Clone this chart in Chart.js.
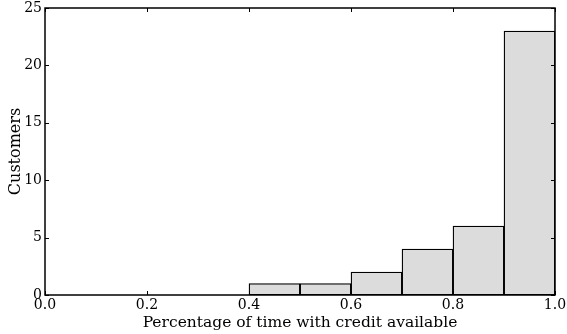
<!DOCTYPE html>
<html>
<head>
<meta charset="utf-8">
<script src="https://cdn.jsdelivr.net/npm/chart.js@4/dist/chart.umd.min.js"></script>
<style>
  html, body { margin: 0; padding: 0; background: #fff; }
  #wrap { width: 567px; height: 334px; }
</style>
</head>
<body>
<div id="wrap"><canvas id="hist"></canvas></div>
<script>
// histogram bins (centres) and customer counts
const binCenters = [0.05, 0.15, 0.25, 0.35, 0.45, 0.55, 0.65, 0.75, 0.85, 0.95];
const customers = [0, 0, 0, 0, 1, 1, 2, 4, 6, 23];
const xTicks = [0.0, 0.2, 0.4, 0.6, 0.8, 1.0];
const yTicks = [0, 5, 10, 15, 20, 25];

const FONT = "'DejaVu Serif', serif";

// matplotlib-like frame with inward ticks on all four sides
const frameTicks = {
    id: 'frameTicks',
    afterDraw(chart) {
        const ctx = chart.ctx;
        const a = chart.chartArea;
        const xs = chart.scales.x, ys = chart.scales.y;
        const len = 4;
        ctx.save();
        ctx.strokeStyle = '#000';
        ctx.lineWidth = 1;
        ctx.beginPath();
        for (const v of xTicks) {
            const px = Math.round(xs.getPixelForValue(v)) + 0.5;
            ctx.moveTo(px, a.bottom); ctx.lineTo(px, a.bottom - len);
            ctx.moveTo(px, a.top); ctx.lineTo(px, a.top + len);
        }
        for (const v of yTicks) {
            const py = Math.round(ys.getPixelForValue(v)) + 0.5;
            ctx.moveTo(a.left, py); ctx.lineTo(a.left + len, py);
            ctx.moveTo(a.right, py); ctx.lineTo(a.right - len, py);
        }
        ctx.stroke();
        ctx.lineWidth = 1.5;
        ctx.strokeRect(a.left, a.top, a.right - a.left, a.bottom - a.top);
        ctx.restore();
    }
};

new Chart(document.getElementById('hist').getContext('2d'), {
    type: 'bar',
    data: {
        datasets: [{
            data: binCenters.map((c, i) => ({ x: c, y: customers[i] })),
            backgroundColor: '#dcdcdc',
            borderColor: '#000',
            borderWidth: 1.3,
            borderSkipped: false,
            barPercentage: 1,
            categoryPercentage: 1
        }]
    },
    options: {
        responsive: true,
        maintainAspectRatio: false,
        animation: false,
        layout: { padding: { top: 8, right: 12, left: 0, bottom: 0 } },
        plugins: { legend: { display: false }, tooltip: { enabled: false } },
        scales: {
            x: {
                type: 'linear',
                min: 0, max: 1,
                offset: false,
                grid: { display: false, drawTicks: false },
                border: { display: false },
                afterBuildTicks: (s) => { s.ticks = xTicks.map(v => ({ value: v })); },
                afterFit: (s) => { s.height = 39; s.paddingLeft = 0; s.paddingRight = 0; },
                ticks: {
                    color: '#000', padding: 2,
                    font: { family: FONT, size: 14 },
                    callback: (v) => v.toFixed(1)
                },
                title: {
                    display: true, text: 'Percentage of time with credit available',
                    color: '#000', padding: { top: 0, bottom: 2 },
                    font: { family: FONT, size: 15.5 }
                }
            },
            y: {
                min: 0, max: 25,
                grid: { display: false, drawTicks: false },
                border: { display: false },
                afterBuildTicks: (s) => { s.ticks = yTicks.map(v => ({ value: v })); },
                afterFit: (s) => { s.width = 45; s.paddingTop = 0; s.paddingBottom = 0; },
                ticks: {
                    color: '#000', padding: 3,
                    font: { family: FONT, size: 14 }
                },
                title: {
                    display: true, text: 'Customers',
                    color: '#000', padding: { top: 6, bottom: 2 },
                    font: { family: FONT, size: 16 }
                }
            }
        }
    },
    plugins: [frameTicks]
});
</script>
</body>
</html>
